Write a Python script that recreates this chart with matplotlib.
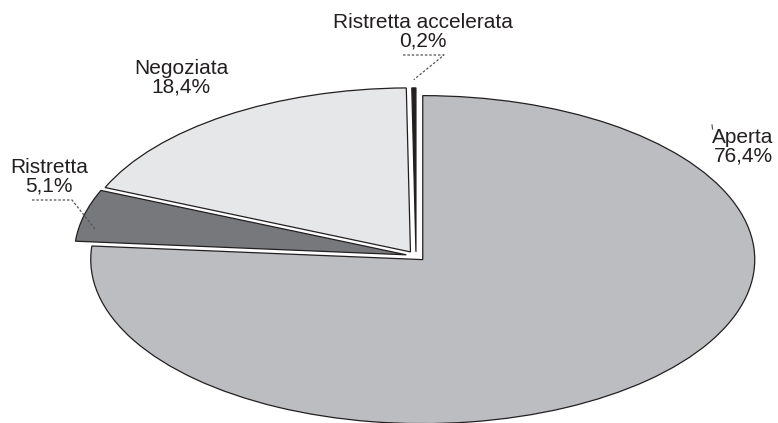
import numpy as np
import matplotlib.pyplot as plt

plt.rcParams['font.family'] = ['Liberation Sans', 'DejaVu Sans']

# data
labels = ['Aperta', 'Ristretta', 'Negoziata', 'Ristretta accelerata']
shares = [76.4, 5.1, 18.4, 0.2]
pct_text = ['76,4%', '5,1%', '18,4%', '0,2%']
colors = ['#bcbdc0', '#77787b', '#e6e7e8', '#231f20']
explode = [0.03, 0.03, 0.03, 0.025]

W, H = 778, 423
cx, cy = 416, 256      # pie centre in pixels
a, b = 332, 164        # half axes of the ellipse in pixels


def px(x, y):
    # pixel (from top left) -> data coords
    return (x - cx) / a, (cy - y) / b


fig = plt.figure(figsize=(W / 100, H / 100), dpi=100)
ax = fig.add_axes([0, 0, 1, 1])
wedges, _ = ax.pie(shares, startangle=90, counterclock=False, explode=explode,
                   colors=colors,
                   wedgeprops=dict(edgecolor='#231f20', linewidth=0.9))
ax.set_aspect('auto')
ax.set_xlim(-cx / a, (W - cx) / a)
ax.set_ylim(-(H - cy) / b, cy / b)
ax.axis('off')

# label positions (text block centres, pixels) and leader lines
text_pos = [(743, 147), (49, 177), (181, 78), (423, 32)]
# start, bend, radius, angle offset from the wedge middle
leaders = {1: ((32, 200), (72, 200), 0.95, 4.5),
           3: ((403, 55), (444, 55), 1.05, 0.0)}

for i, w in enumerate(wedges):
    tx, ty = px(*text_pos[i])
    ax.text(tx, ty, labels[i] + '\n' + pct_text[i], ha='center', va='center',
            multialignment='center', fontsize=15, linespacing=1.0,
            color='#231f20')
    if i in leaders:
        p0, p1, r, off = leaders[i]
        mid = np.deg2rad((w.theta1 + w.theta2) / 2 + off)
        ex = w.center[0] + r * np.cos(mid)
        ey = w.center[1] + r * np.sin(mid)
        x0, y0 = px(*p0)
        x1, y1 = px(*p1)
        ax.plot([x0, x1, ex], [y0, y1, ey], color='#555555', lw=0.9,
                linestyle=(0, (2, 1.5)))

# little leftover leader stub by the Aperta label
s0, s1 = px(712, 125), px(712.6, 129)
ax.plot([s0[0], s1[0]], [s0[1], s1[1]], color='#555555', lw=0.9)

fig.savefig('out.png', dpi=100)
